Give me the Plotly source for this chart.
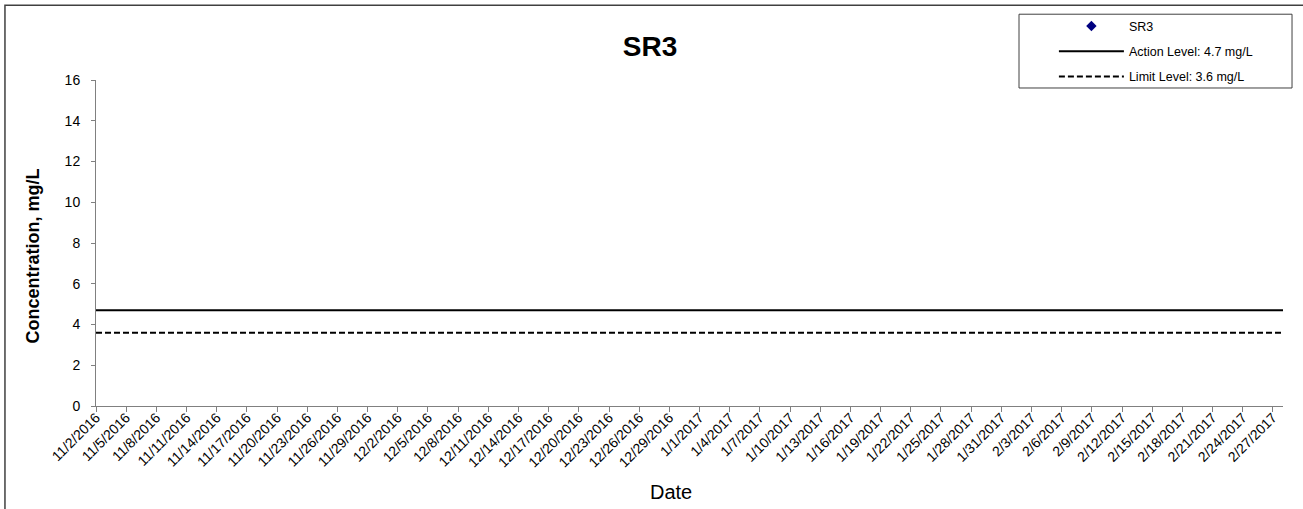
import pandas as pd
import plotly.graph_objects as go

# sample results (none reported for this period)
sr3_dates = [None]
sr3_values = [None]

# regulatory levels, drawn across the whole period
level_dates = ["2016-11-02", "2017-02-28"]
action_level = [4.7, 4.7]
limit_level = [3.6, 3.6]

date_ticks = [
    "11/2/2016", "11/5/2016", "11/8/2016", "11/11/2016", "11/14/2016", "11/17/2016",
    "11/20/2016", "11/23/2016", "11/26/2016", "11/29/2016", "12/2/2016", "12/5/2016",
    "12/8/2016", "12/11/2016", "12/14/2016", "12/17/2016", "12/20/2016", "12/23/2016",
    "12/26/2016", "12/29/2016", "1/1/2017", "1/4/2017", "1/7/2017", "1/10/2017",
    "1/13/2017", "1/16/2017", "1/19/2017", "1/22/2017", "1/25/2017", "1/28/2017",
    "1/31/2017", "2/3/2017", "2/6/2017", "2/9/2017", "2/12/2017", "2/15/2017",
    "2/18/2017", "2/21/2017", "2/24/2017", "2/27/2017",
]
y_ticks = [0, 2, 4, 6, 8, 10, 12, 14, 16]

font = "Liberation Sans, Arial, sans-serif"
axis_grey = "#808080"

fig = go.Figure()
fig.add_trace(go.Scatter(x=sr3_dates, y=sr3_values, mode="markers", name="SR3",
                         legendgroup="a",
                         marker=dict(symbol="diamond", size=8, color="#000080")))
fig.add_trace(go.Scatter(x=level_dates, y=action_level, mode="lines",
                         name="Action Level: 4.7 mg/L", legendgroup="b",
                         line=dict(color="black", width=2)))
fig.add_trace(go.Scatter(x=level_dates, y=limit_level, mode="lines",
                         name="Limit Level: 3.6 mg/L", legendgroup="c",
                         line=dict(color="black", width=2, dash="6px,3px")))

tick_vals = pd.to_datetime(date_ticks, format="%m/%d/%Y")

fig.update_layout(
    width=1303, height=509,
    margin=dict(l=96, r=20, t=79, b=103),
    paper_bgcolor="white", plot_bgcolor="white",
    font=dict(family=font, color="black"),
    showlegend=True,
    title=dict(text="<b>SR3</b>", x=650 / 1303, xanchor="center",
               y=1 - 46 / 509, yanchor="middle",
               font=dict(size=28, family=font, color="black")),
    legend=dict(x=0.807, xanchor="left", y=1.207, yanchor="top",
                bgcolor="rgba(0,0,0,0)", borderwidth=0,
                font=dict(size=12.5, family=font), itemwidth=65,
                tracegroupgap=6),
    xaxis=dict(type="date", range=["2016-11-02", "2017-02-28"],
               tickvals=tick_vals, ticktext=date_ticks, tickangle=-45,
               tickfont=dict(size=14), ticks="outside", ticklen=5,
               tickcolor=axis_grey, showline=True, linecolor=axis_grey,
               linewidth=1, showgrid=False, zeroline=False,
               automargin=False, ticklabelstandoff=-8),
    yaxis=dict(range=[0, 16], tickvals=y_ticks, tickfont=dict(size=14),
               ticks="outside", ticklen=4, tickcolor=axis_grey,
               showline=True, linecolor=axis_grey, linewidth=1,
               showgrid=False, zeroline=False, automargin=False,
               ticklabelstandoff=8),
)

fig.add_annotation(text="<b>Concentration, mg/L</b>", textangle=-90,
                   xref="paper", yref="paper", x=-0.053, y=0.459,
                   xanchor="center", yanchor="middle", showarrow=False,
                   font=dict(size=18, family=font, color="black"))
fig.add_annotation(text="Date", xref="paper", yref="paper",
                   x=0.4844, y=-0.263, xanchor="center", yanchor="middle",
                   showarrow=False, font=dict(size=20, family=font, color="black"))

# legend frame and outer chart border
fig.add_shape(type="rect", xref="paper", yref="paper",
              x0=0.7776, x1=1.0076, y0=0.9755, y1=1.2018,
              line=dict(color="#404040", width=1))
fig.add_shape(type="rect", xref="paper", yref="paper",
              x0=-0.0767, x1=1.2, y0=-0.6, y1=1.2294,
              line=dict(color="#404040", width=1.5))

# drop the default page margin so the figure sits at the window origin
fig.write_html("out.html", config={"displayModeBar": False},
               post_script="document.body.style.margin = '0';")
